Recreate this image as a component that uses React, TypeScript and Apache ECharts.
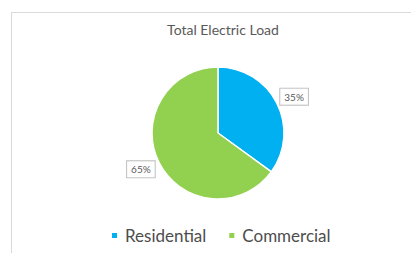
import React, { useEffect, useRef } from "react";
import * as echarts from "echarts";

const categories = ["Residential", "Commercial"];
const values = [35, 65];
const colors = ["#00B0F0", "#92D050"];
const title = "Total Electric Load";

export default function App() {
  const ref = useRef<HTMLDivElement>(null);
  useEffect(() => {
    const chart = echarts.init(ref.current!, null, { renderer: "svg" });
    chart.setOption({
      animation: false,
      backgroundColor: "#ffffff",
      title: {
        text: title,
        left: 218,
        textAlign: "center",
        top: 17,
        textStyle: { fontFamily: "Lato", fontSize: 14, fontWeight: "normal", color: "#595959" },
      },
      legend: {
        data: categories,
        bottom: 4,
        left: 105,
        icon: "rect",
        itemWidth: 7,
        itemHeight: 7,
        itemGap: 21,
        textStyle: { fontFamily: "Lato", fontSize: 17, color: "#4d4d4d", padding: [0, 0, 0, 2] },
      },
      graphic: [
        {
          type: "rect",
          shape: { x: 11.5, y: 12.5, width: 430, height: 280 },
          style: { fill: "none", stroke: "#d9d9d9", lineWidth: 1 },
          silent: true,
        },
      ],
      series: [
        {
          type: "pie",
          center: [218, 133],
          radius: 66,
          startAngle: 90,
          clockwise: true,
          itemStyle: { borderColor: "#ffffff", borderWidth: 1.5 },
          label: {
            show: true,
            position: "outside",
            formatter: "{d}%",
            fontFamily: "Lato",
            fontSize: 10,
            color: "#595959",
            backgroundColor: "#ffffff",
            borderColor: "#bfbfbf",
            borderWidth: 1,
            padding: [3, 4],
            distanceToLabelLine: 0,
          },
          labelLine: { show: false, length: 14, length2: 0 },
          labelLayout: (p: any) => ({ dx: p.labelRect.x > 218 ? -9 : 8 }),
          data: categories.map((c, i) => ({ name: c, value: values[i], itemStyle: { color: colors[i] } })),
        },
      ],
    });
    return () => chart.dispose();
  }, []);
  return <div ref={ref} style={{ width: 411, height: 253, position: "absolute", left: 0, top: 0 }} />;
}
